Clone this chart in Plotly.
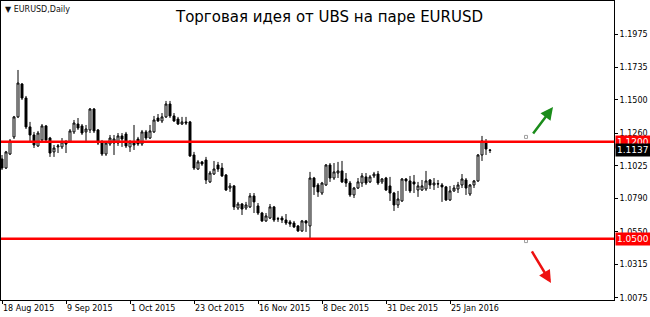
import plotly.graph_objects as go

# ---- data (EURUSD daily) ----
opens = [1.1075,1.1010,1.1111,1.1234,1.1378,1.1615,1.1514,1.1306,1.1248,1.1169,
         1.1212,1.1313,1.1226,1.1126,1.1162,1.1162,1.1190,1.1198,1.1270,1.1327,
         1.1313,1.1270,1.1284,1.1435,1.1284,1.1198,1.1111,1.1183,1.1190,1.1190,
         1.1241,1.1255,1.1162,1.1190,1.1219,1.1183,1.1270,1.1226,1.1270,1.1370,
         1.1349,1.1378,1.1471,1.1385,1.1363,1.1327,1.1342,1.1342,1.1104,1.1003,
         1.1054,1.1068,1.0910,1.0967,1.1032,1.1010,1.0960,1.0866,1.0881,1.0722,
         1.0751,1.0722,1.0730,1.0809,1.0737,1.0686,1.0629,1.0650,1.0730,1.0643,
         1.0650,1.0636,1.0622,1.0614,1.0593,1.0557,1.0629,1.0593,1.0938,1.0888,
         1.0830,1.0888,1.1032,1.0938,1.0974,1.0989,1.0931,1.0902,1.0816,1.0866,
         1.0902,1.0946,1.0910,1.0953,1.0967,1.0910,1.0938,1.0881,1.0830,1.0744,
         1.0773,1.0931,1.0917,1.0910,1.0852,1.0852,1.0859,1.0924,1.0888,1.0895,
         1.0888,1.0874,1.0780,1.0845,1.0859,1.0888,1.0924,1.0823,1.0888,1.0917,
         1.1104,1.1190,1.1140]
highs = [1.1104,1.1133,1.1219,1.1385,1.1716,1.1622,1.1529,1.1342,1.1270,1.1277,
         1.1327,1.1320,1.1234,1.1176,1.1183,1.1226,1.1212,1.1291,1.1356,1.1370,
         1.1327,1.1320,1.1442,1.1442,1.1291,1.1212,1.1205,1.1248,1.1248,1.1262,
         1.1262,1.1270,1.1212,1.1320,1.1234,1.1284,1.1284,1.1320,1.1385,1.1399,
         1.1406,1.1493,1.1493,1.1406,1.1378,1.1378,1.1378,1.1349,1.1126,1.1068,
         1.1061,1.1090,1.0989,1.1061,1.1054,1.1046,1.0967,1.0902,1.0888,1.0766,
         1.0758,1.0766,1.0830,1.0830,1.0758,1.0694,1.0686,1.0751,1.0737,1.0658,
         1.0665,1.0679,1.0636,1.0629,1.0600,1.0636,1.0636,1.0982,1.0946,1.0902,
         1.0910,1.1039,1.1046,1.1046,1.1054,1.1061,1.0974,1.0917,1.0874,1.0938,
         1.0974,1.0974,1.0960,1.0982,1.0989,1.0938,1.0946,1.0946,1.0838,1.0845,
         1.0938,1.0938,1.0953,1.0960,1.0910,1.0924,1.0989,1.0931,1.0938,1.0924,
         1.0902,1.0881,1.0881,1.0888,1.0910,1.0967,1.0938,1.0895,1.0924,1.1111,
         1.1241,1.1219,1.1147]
lows = [1.0996,1.1003,1.1104,1.1219,1.1370,1.1500,1.1291,1.1198,1.1154,1.1162,
        1.1205,1.1198,1.1090,1.1090,1.1118,1.1147,1.1118,1.1190,1.1255,1.1284,
        1.1248,1.1198,1.1262,1.1262,1.1176,1.1097,1.1097,1.1169,1.1104,1.1169,
        1.1162,1.1154,1.1126,1.1140,1.1169,1.1169,1.1212,1.1219,1.1262,1.1342,
        1.1334,1.1370,1.1370,1.1342,1.1320,1.1320,1.1320,1.1090,1.0996,1.0996,
        1.1025,1.0895,1.0902,1.0960,1.0982,1.0946,1.0845,1.0838,1.0708,1.0708,
        1.0672,1.0708,1.0722,1.0686,1.0672,1.0622,1.0622,1.0643,1.0622,1.0622,
        1.0614,1.0600,1.0586,1.0578,1.0550,1.0550,1.0550,1.0506,1.0816,1.0802,
        1.0816,1.0881,1.0910,1.0924,1.0938,1.0902,1.0874,1.0802,1.0794,1.0859,
        1.0874,1.0888,1.0902,1.0938,1.0888,1.0895,1.0845,1.0773,1.0701,1.0722,
        1.0766,1.0845,1.0830,1.0830,1.0802,1.0845,1.0845,1.0859,1.0852,1.0866,
        1.0766,1.0773,1.0773,1.0838,1.0830,1.0866,1.0816,1.0809,1.0866,1.0910,
        1.1061,1.1104,1.1118]
closes = [1.1010,1.1126,1.1205,1.1378,1.1622,1.1514,1.1306,1.1248,1.1176,1.1262,
          1.1313,1.1212,1.1118,1.1154,1.1169,1.1198,1.1183,1.1277,1.1334,1.1298,
          1.1262,1.1291,1.1435,1.1277,1.1190,1.1111,1.1190,1.1226,1.1219,1.1241,
          1.1219,1.1169,1.1198,1.1176,1.1183,1.1270,1.1226,1.1277,1.1356,1.1349,
          1.1378,1.1471,1.1385,1.1349,1.1327,1.1342,1.1334,1.1097,1.1010,1.1054,
          1.1039,1.0924,1.0974,1.1003,1.1003,1.0953,1.0852,1.0881,1.0730,1.0751,
          1.0715,1.0744,1.0809,1.0766,1.0686,1.0629,1.0665,1.0730,1.0636,1.0645,
          1.0636,1.0614,1.0607,1.0586,1.0557,1.0629,1.0614,1.0938,1.0874,1.0838,
          1.0902,1.1032,1.0938,1.0982,1.0989,1.0910,1.0902,1.0816,1.0866,1.0910,
          1.0953,1.0902,1.0946,1.0967,1.0902,1.0931,1.0852,1.0830,1.0744,1.0787,
          1.0931,1.0917,1.0845,1.0895,1.0881,1.0881,1.0917,1.0888,1.0902,1.0897,
          1.0874,1.0780,1.0845,1.0866,1.0888,1.0931,1.0866,1.0888,1.0917,1.1104,
          1.1205,1.1147,1.1137]

x_tick_idx = [0, 16, 32, 48, 64, 80, 96, 112]
x_tick_text = ["18 Aug 2015", "9 Sep 2015", "1 Oct 2015", "23 Oct 2015",
               "16 Nov 2015", "8 Dec 2015", "31 Dec 2015", "25 Jan 2016"]
y_tick_vals = [1.1975, 1.1735, 1.1500, 1.1260, 1.1025, 1.0790, 1.0550, 1.0315, 1.0075]
y_tick_text = ["1.1975", "1.1735", "1.1500", "1.1260", "1.1025", "1.0790", "1.0550", "1.0315", "1.0075"]

levels = [1.1200, 1.0500]
marker_x = [131, 131]
marker_y = [1.1234, 1.0484]
arrow_up = dict(x0=132.5, y0=1.1248, x1=137.75, y1=1.1449)
arrow_dn = dict(x0=132.25, y0=1.0420, x1=137.25, y1=1.0182)

title = "Торговая идея от UBS на паре EURUSD"
symbol_label = "▼ EURUSD,Daily"

FONT = "DejaVu Sans"
idx = list(range(len(opens)))

fig = go.Figure()
fig.add_trace(go.Candlestick(
    x=idx, open=opens, high=highs, low=lows, close=closes,
    increasing=dict(line=dict(color="black", width=1), fillcolor="white"),
    decreasing=dict(line=dict(color="black", width=1), fillcolor="black"),
    whiskerwidth=0, hoverinfo="skip", showlegend=False,
))
fig.add_trace(go.Scatter(
    x=marker_x, y=marker_y, mode="markers",
    marker=dict(symbol="square-open", size=3, color="#a0a0a0", line=dict(width=1)),
    hoverinfo="skip", showlegend=False,
))

for lv in levels:
    fig.add_shape(type="line", xref="paper", x0=0, x1=1, yref="y", y0=lv, y1=lv,
                  line=dict(color="#ff0000", width=2.5), layer="above")

annotations = []
for lv in levels:
    annotations.append(dict(xref="paper", x=1, xanchor="left", xshift=1, yref="y", y=lv,
                            yanchor="middle", text=f"{lv:.4f}", showarrow=False,
                            bgcolor="#ff0000", font=dict(family=FONT, size=9, color="white"),
                            borderpad=1))
annotations.append(dict(xref="paper", x=1, xanchor="left", xshift=1, yref="y", y=closes[-1],
                        yanchor="middle", text=f"{closes[-1]:.4f}", showarrow=False,
                        bgcolor="black", font=dict(family=FONT, size=9, color="white"),
                        borderpad=1))
for a, col in ((arrow_up, "#1a8c1a"), (arrow_dn, "#ee1111")):
    annotations.append(dict(x=a["x1"], y=a["y1"], ax=a["x0"], ay=a["y0"], xref="x", yref="y",
                            axref="x", ayref="y", text="", showarrow=True, arrowhead=2,
                            arrowsize=1, arrowwidth=2.5, arrowcolor=col))
annotations.append(dict(xref="paper", yref="paper", x=0.535, y=0.945, xanchor="center",
                        yanchor="middle", text=title, showarrow=False,
                        font=dict(family=FONT, size=15, color="black")))
annotations.append(dict(xref="paper", yref="paper", x=0.004, y=0.992, xanchor="left",
                        yanchor="top", text=symbol_label, showarrow=False,
                        font=dict(family=FONT, size=8, color="#111111")))

fig.update_layout(
    width=650, height=317,
    margin=dict(l=1, r=36, t=1, b=17),
    paper_bgcolor="white", plot_bgcolor="white",
    annotations=annotations,
    showlegend=False,
    xaxis=dict(range=[-0.25, 153], showgrid=False, zeroline=False,
               rangeslider=dict(visible=False),
               showline=True, linecolor="black", linewidth=1, mirror=True,
               tickmode="array", tickvals=x_tick_idx, ticktext=x_tick_text,
               ticks="outside", ticklen=3, tickcolor="black",
               ticklabelposition="outside right",
               tickfont=dict(family=FONT, size=8, color="black")),
    yaxis=dict(range=[1.00598, 1.22126], side="right", showgrid=False, zeroline=False,
               showline=True, linecolor="black", linewidth=1, mirror=True,
               tickmode="array", tickvals=y_tick_vals, ticktext=y_tick_text,
               ticks="outside", ticklen=3, tickcolor="black",
               tickfont=dict(family=FONT, size=8, color="black")),
)

fig.write_html("out.html", config={"displayModeBar": False})
